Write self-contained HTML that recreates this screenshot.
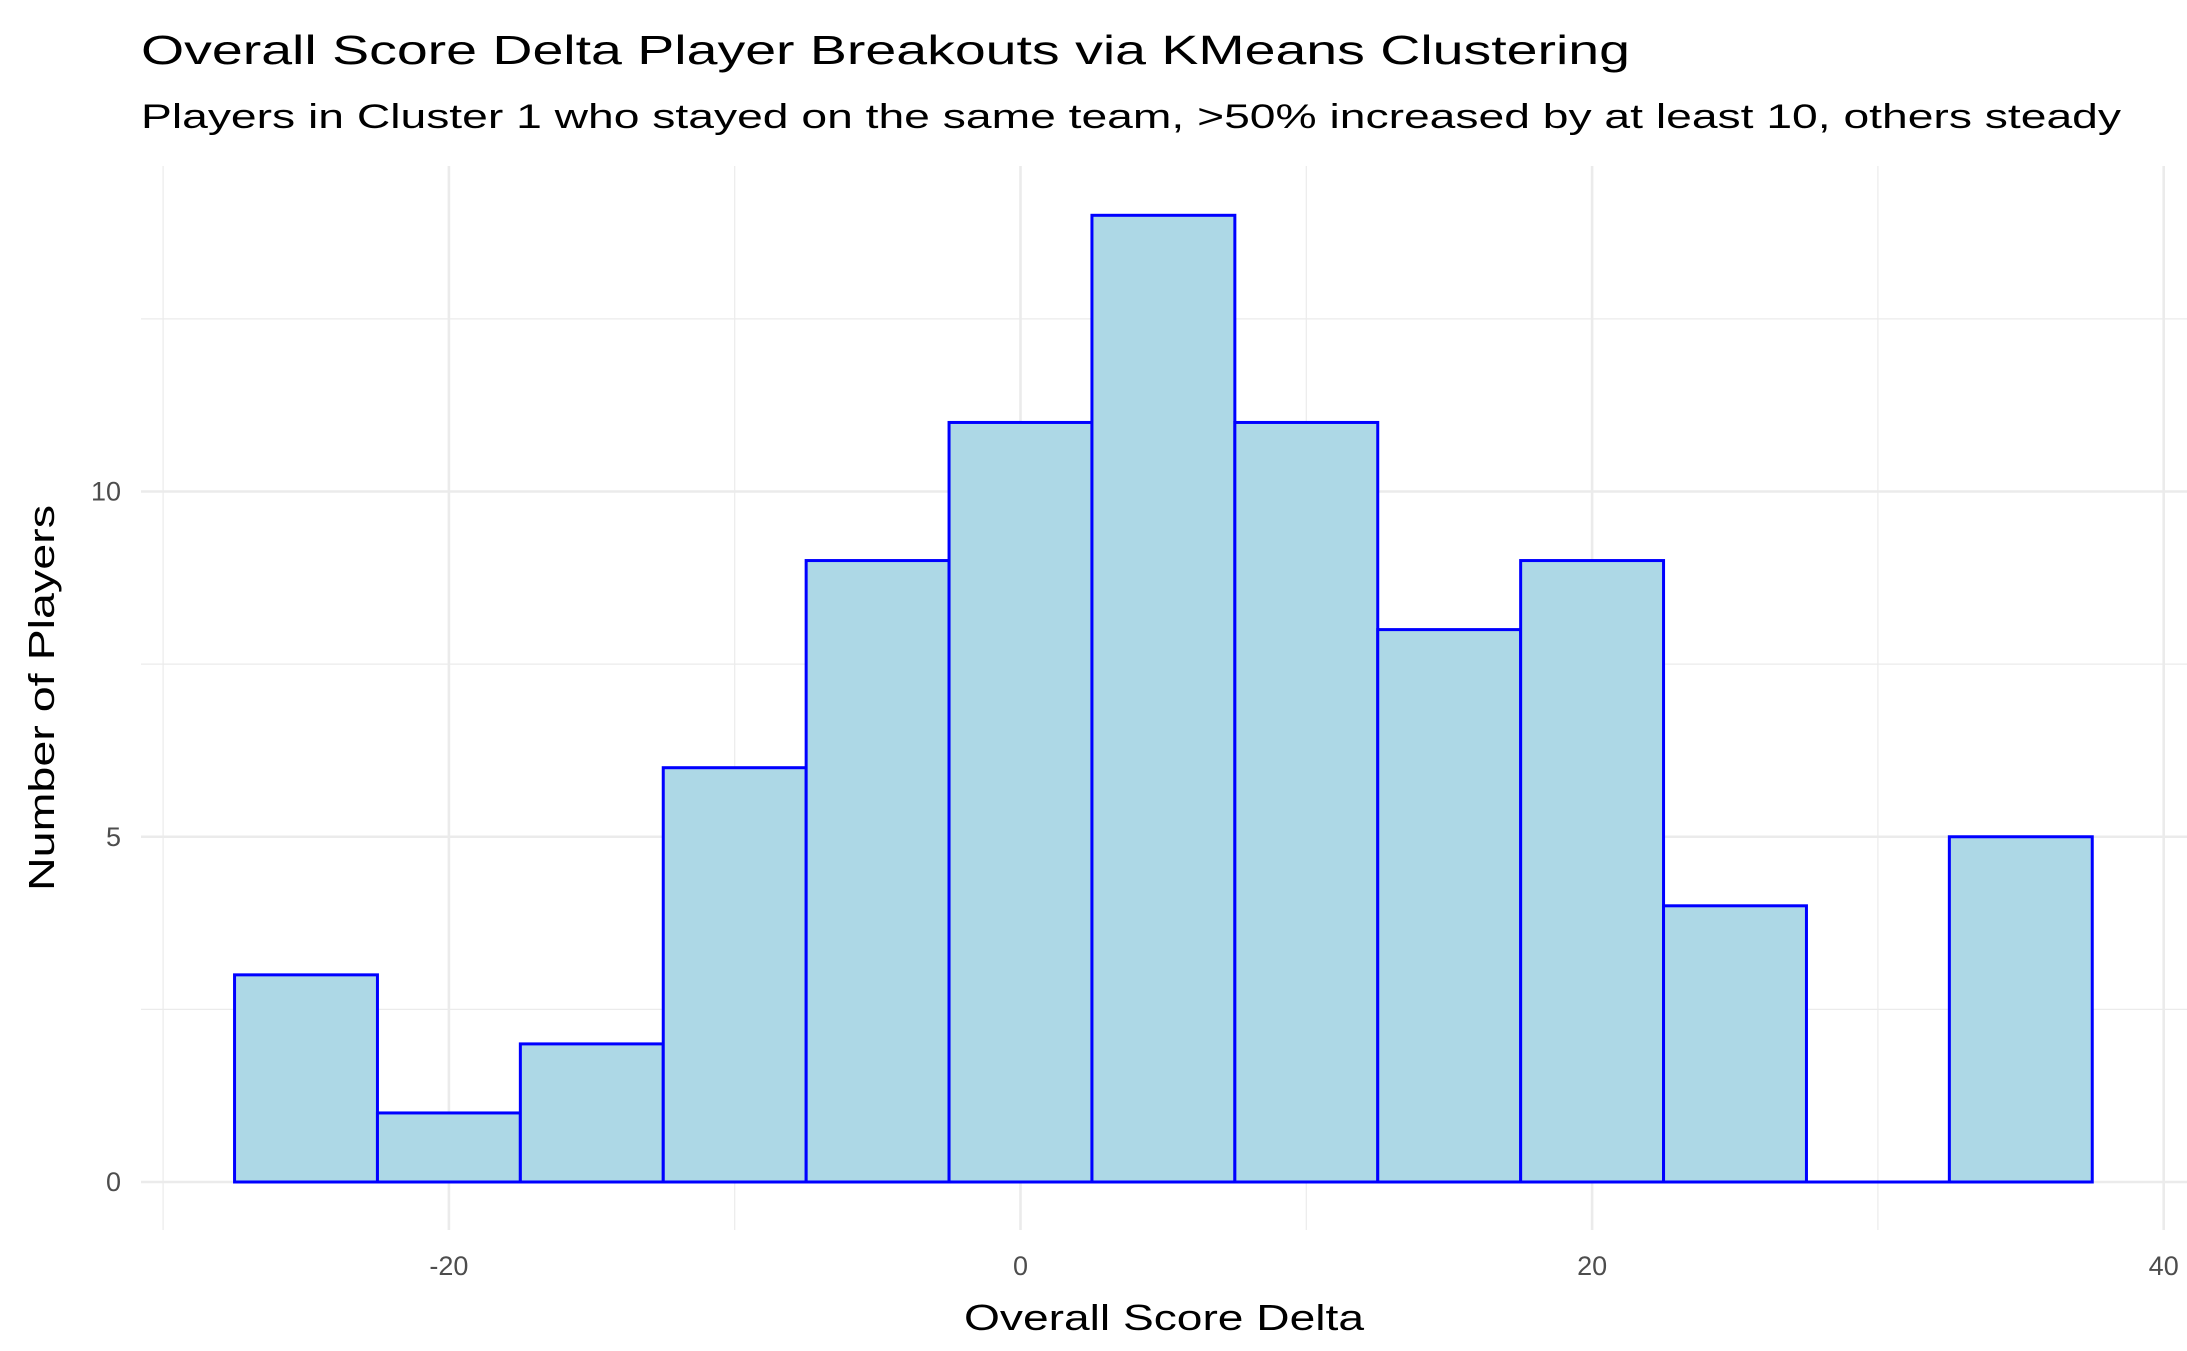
<!DOCTYPE html>
<html><head><meta charset="utf-8"><style>
html,body{margin:0;padding:0;background:#fff;}
svg{display:block;font-family:"Liberation Sans",Arial,sans-serif;}
</style></head><body>
<svg id="chart" width="2187" height="1351" viewBox="0 0 2187 1351">
<text x="141" y="64" font-size="41" fill="#000" textLength="1489" lengthAdjust="spacingAndGlyphs">Overall Score Delta Player Breakouts via KMeans Clustering</text>
<text x="141" y="128" font-size="34" fill="#000" textLength="1980" lengthAdjust="spacingAndGlyphs">Players in Cluster 1 who stayed on the same team, &gt;50% increased by at least 10, others steady</text>
<g id="grid"></g>
<g id="bars"></g>
<g id="xticks"></g>
<g id="yticks"></g>
<text x="1164" y="1330" font-size="36" text-anchor="middle" fill="#000" textLength="400" lengthAdjust="spacingAndGlyphs">Overall Score Delta</text>
<text transform="translate(54,698) rotate(-90)" font-size="36" text-anchor="middle" fill="#000" textLength="386" lengthAdjust="spacingAndGlyphs">Number of Players</text>
</svg>
<script>
const binCenters = [-25,-20,-15,-10,-5,0,5,10,15,20,25,30,35];
const counts = [3,1,2,6,9,11,14,11,8,9,4,0,5];
const xTicks = [-20,0,20,40];
const xMinor = [-30,-10,10,30];
const yTicks = [0,5,10];
const yMinor = [2.5,7.5,12.5];
const binWidth = 5;

const NS="http://www.w3.org/2000/svg";
const X0=1020.5, XS=28.58, Y0=1182, YS=69.05;
const PL=141, PR=2187, PT=166, PB=1230;
const xs=v=>X0+v*XS, ys=v=>Y0-v*YS;
function mk(tag,attrs,parent){const e=document.createElementNS(NS,tag);for(const k in attrs)e.setAttribute(k,attrs[k]);parent.appendChild(e);return e;}
const grid=document.getElementById('grid');
yMinor.forEach(v=>{const l=mk('line',{x1:PL,x2:PR,y1:ys(v),y2:ys(v),stroke:'#ebebeb','stroke-width':1.2},grid);

});
xMinor.forEach(v=>{const l=mk('line',{x1:xs(v),x2:xs(v),y1:PT,y2:PB,stroke:'#ebebeb','stroke-width':1.2},grid);

});
yTicks.forEach(v=>{const l=mk('line',{x1:PL,x2:PR,y1:ys(v),y2:ys(v),stroke:'#ebebeb','stroke-width':2.6},grid);

});
xTicks.forEach(v=>{const l=mk('line',{x1:xs(v),x2:xs(v),y1:PT,y2:PB,stroke:'#ebebeb','stroke-width':2.6},grid);

});
const bars=document.getElementById('bars');
binCenters.forEach((c,i)=>{const x1=xs(c-binWidth/2),x2=xs(c+binWidth/2);
if(counts[i]===0){
const z=mk('line',{x1:x1,x2:x2,y1:ys(0),y2:ys(0),stroke:'#0000ff','stroke-width':3},bars);


return;}
const r=mk('rect',{x:x1,y:ys(counts[i]),width:x2-x1,height:ys(0)-ys(counts[i]),fill:'#add8e6',stroke:'#0000ff','stroke-width':3},bars);

});
const xt=document.getElementById('xticks');
xTicks.forEach(v=>{const t=mk('text',{x:xs(v),y:1275,'font-size':27,'text-anchor':'middle',fill:'#4d4d4d'},xt);t.textContent=String(v);

});
const yt=document.getElementById('yticks');
yTicks.forEach(v=>{const t=mk('text',{x:121,y:ys(v)+9,'font-size':27,'text-anchor':'end',fill:'#4d4d4d'},yt);t.textContent=String(v);

});
</script>
</body></html>
